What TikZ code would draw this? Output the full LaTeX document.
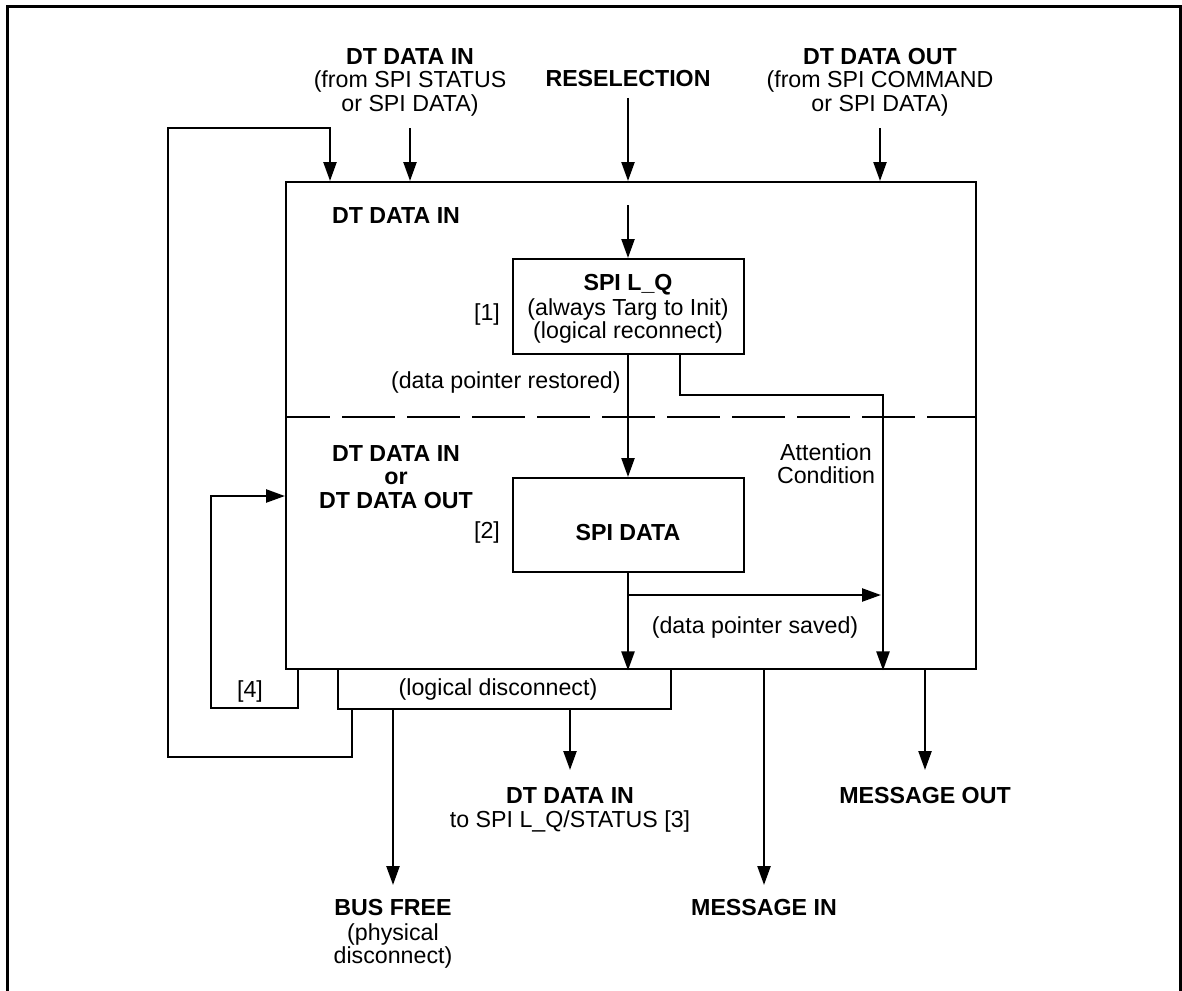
\documentclass[tikz,border=0pt]{standalone}
\usepackage{fontspec}
\setmainfont{Liberation Sans}
\usetikzlibrary{arrows.meta}
\begin{document}
\begin{tikzpicture}[x=0.5pt,y=-0.5pt,
  ln/.style={line width=1.2pt},
  arr/.style={line width=1.2pt,-{Triangle[length=9.5pt,width=6.5pt]}},
  bx/.style={draw,line width=1.2pt,inner sep=0pt,anchor=north west},
  lbl/.style={anchor=base,inner sep=0pt,font=\fontsize{11.6}{13}\selectfont},
  bl/.style={anchor=base,inner sep=0pt,font=\fontsize{11.6}{13}\selectfont\bfseries},
]
\useasboundingbox (0,0) rectangle (1182,990);
% outer frame
\draw[line width=1.5pt] (7,1000) -- (7,7) -- (1180,7) -- (1180,1000);

% boxes
\node[bx,minimum width=345pt,minimum height=243.5pt] (main) at (285,181) {};
\node[bx,minimum width=115.5pt,minimum height=47.5pt] (lq) at (512,258) {};
\node[bx,minimum width=115.5pt,minimum height=47pt] (spid) at (512,477) {};
\node[bx,minimum width=166.5pt,minimum height=20pt] (ld) at (337,668) {};

% dashed divider
\coordinate (dl) at (285,417);
\coordinate (dr) at (975,417);
\draw[ln,dash pattern=on 26.5pt off 6pt,dash phase=4pt] (dl) -- (dr);

% coordinates
\coordinate (tin) at (410,128);
\coordinate (tres) at (628,98);
\coordinate (tout) at (880,128);
\coordinate (ires) at (628,205);
\coordinate (att) at (680,353);
\coordinate (attc) at (883,395);
\coordinate (brn) at (628,595);
\coordinate (brnE) at (881,595);
\coordinate (lpA) at (352,708);
\coordinate (lpB) at (168,757);
\coordinate (lpC) at (330,128);
\coordinate (fA) at (298,668);
\coordinate (fB) at (211,708);
\coordinate (fC) at (285,496);
\coordinate (bf) at (393,885);
\coordinate (dti) at (570,770);
\coordinate (mi) at (764,885);
\coordinate (mo) at (925,770);

% connectors
\draw[arr] (tin) -- (tin |- main.north);
\draw[arr] (tres) -- (tres |- main.north);
\draw[arr] (tout) -- (tout |- main.north);
\draw[arr] (ires) -- (ires |- lq.north);
\draw[arr] (ires |- lq.south) -- (ires |- spid.north);
\draw[arr] (att) |- (attc) -- (attc |- main.south);
\draw[arr] (ires |- spid.south) -- (ires |- main.south);
\draw[arr] (brn) -- (brnE);
\draw[arr] (lpA) |- (lpB) |- (lpC) -- (lpC |- main.north);
\draw[arr] (fA) |- (fB) |- (fC);
\draw[arr] (bf |- ld.south) -- (bf);
\draw[arr] (dti |- ld.south) -- (dti);
\draw[arr] (mi |- main.south) -- (mi);
\draw[arr] (mo |- main.south) -- (mo);

% labels top
\node[bl] (t1a) at (410,65) {DT DATA IN};
\node[lbl] (t1b) at (410,88) {(from SPI STATUS};
\node[lbl] (t1c) at (410,112) {or SPI DATA)};
\node[bl] (t2) at (628,87) {RESELECTION};
\node[bl] (t3a) at (880,65) {DT DATA OUT};
\node[lbl] (t3b) at (880,88) {(from SPI COMMAND};
\node[lbl] (t3c) at (880,112) {or SPI DATA)};

% inside upper
\node[bl] (u1) at (396,223) {DT DATA IN};
\node[bl] (q1) at (628,290) {SPI L\_Q};
\node[lbl] (q2) at (628,315) {(always Targ to Init)};
\node[lbl] (q3) at (628,338) {(logical reconnect)};
\node[lbl] (n1) at (487,320) {[1]};
\node[lbl,anchor=base east] (dpr) at (621,388) {(data pointer restored)};

% inside lower
\node[bl] (m1) at (396,461) {DT DATA IN};
\node[bl] (m2) at (396,484) {or};
\node[bl] (m3) at (396,508) {DT DATA OUT};
\node[lbl] (n2) at (487,538) {[2]};
\node[bl] (sd) at (628,540) {SPI DATA};
\node[lbl] (ac1) at (826,460) {Attention};
\node[lbl] (ac2) at (826,483) {Condition};
\node[lbl] (dps) at (755,633) {(data pointer saved)};

% bottom
\node[lbl] (n4) at (250,697) {[4]};
\node[lbl] (ldt) at (498,695) {(logical disconnect)};
\node[bl] (b1a) at (570,803) {DT DATA IN};
\node[lbl] (b1b) at (570,827) {to SPI L\_Q/STATUS [3]};
\node[bl] (b2) at (925,803) {MESSAGE OUT};
\node[bl] (b3a) at (393,915) {BUS FREE};
\node[lbl] (b3b) at (393,940) {(physical};
\node[lbl] (b3c) at (393,963) {disconnect)};
\node[bl] (b4) at (764,915) {MESSAGE IN};
\end{tikzpicture}
\end{document}
